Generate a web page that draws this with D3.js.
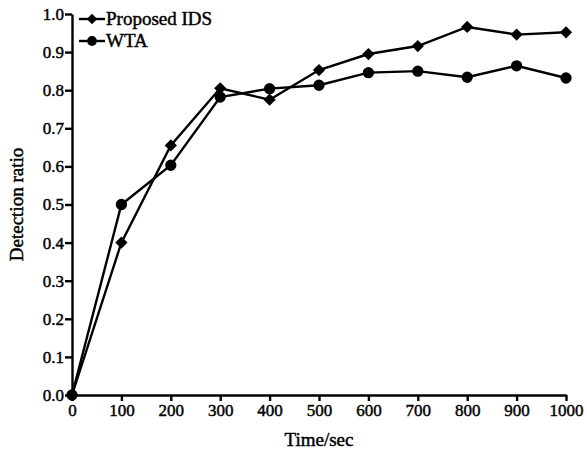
<!DOCTYPE html>
<html lang="en">
<head>
<meta charset="utf-8">
<title>Detection ratio</title>
<script src="https://d3js.org/d3.v7.min.js"></script>
<style>
  body { margin: 0; background: #fff; }
  text { font-family: "Liberation Serif", "Times New Roman", serif; fill: #000; stroke: #000; stroke-width: 0.45; }
  .axis path, .axis line { stroke: #000; stroke-width: 2.4; }
  .axis text { font-size: 17px; font-family: "Liberation Serif", "Times New Roman", serif; }
</style>
</head>
<body>
<div id="chart"></div>
<script>
const times = [0, 100, 200, 300, 400, 500, 600, 700, 800, 900, 1000];
const proposedIDS = [0, 0.40, 0.655, 0.805, 0.775, 0.853, 0.895, 0.916, 0.966, 0.946, 0.952];
const wta = [0, 0.50, 0.603, 0.782, 0.804, 0.813, 0.846, 0.850, 0.834, 0.864, 0.832];
const yTicks = [0, 0.1, 0.2, 0.3, 0.4, 0.5, 0.6, 0.7, 0.8, 0.9, 1.0];

const width = 587, height = 455;
const margin = {left: 72, right: 21, top: 14, bottom: 60};

const svg = d3.select("#chart").append("svg")
    .attr("width", width)
    .attr("height", height);

const x = d3.scaleLinear().domain([0, 1000]).range([margin.left, width - margin.right]);
const y = d3.scaleLinear().domain([0, 1]).range([height - margin.bottom, margin.top]);

svg.append("g")
    .attr("class", "axis")
    .attr("transform", `translate(0,${height - margin.bottom})`)
    .call(d3.axisBottom(x).tickValues(times).tickFormat(d3.format("d")).tickSize(6).tickSizeOuter(0).tickPadding(3));

svg.append("g")
    .attr("class", "axis")
    .attr("transform", `translate(${margin.left},0)`)
    .call(d3.axisLeft(y).tickValues(yTicks).tickFormat(d3.format(".1f")).tickSize(7).tickSizeOuter(0).tickPadding(1));

const line = d3.line().x((d, i) => x(times[i])).y(d => y(d));

// diamond drawn as a square turned 45 degrees
const diamond = {
  draw(ctx, size) {
    const r = Math.sqrt(size) / 2;
    ctx.moveTo(0, -r); ctx.lineTo(r, 0); ctx.lineTo(0, r); ctx.lineTo(-r, 0); ctx.closePath();
  }
};

const series = [
  {name: "Proposed IDS", values: proposedIDS, symbol: diamond, size: 150},
  {name: "WTA", values: wta, symbol: d3.symbolCircle, size: 100}
];

series.forEach(s => {
  svg.append("path")
      .datum(s.values)
      .attr("fill", "none")
      .attr("stroke", "#000")
      .attr("stroke-width", 2.4)
      .attr("d", line);
  svg.append("g").selectAll("path")
      .data(s.values)
      .join("path")
      .attr("transform", (d, i) => `translate(${x(times[i])},${y(d)})`)
      .attr("d", d3.symbol().type(s.symbol).size(s.size))
      .attr("fill", "#000");
});

// legend
const legend = svg.append("g");
series.forEach((s, i) => {
  const ly = 19 + i * 22;
  legend.append("line")
      .attr("x1", 79).attr("x2", 105)
      .attr("y1", ly).attr("y2", ly)
      .attr("stroke", "#000").attr("stroke-width", 2.4);
  legend.append("path")
      .attr("transform", `translate(92,${ly})`)
      .attr("d", d3.symbol().type(s.symbol).size(s.size * 0.75))
      .attr("fill", "#000");
  legend.append("text")
      .attr("x", 106).attr("y", ly + 6)
      .style("font-size", "19px")
      .text(s.name);
});

svg.append("text")
    .attr("x", (margin.left + width - margin.right) / 2)
    .attr("y", 446)
    .attr("text-anchor", "middle")
    .style("font-size", "19px")
    .text("Time/sec");

svg.append("text")
    .attr("transform", `translate(23,${(margin.top + height - margin.bottom) / 2}) rotate(-90)`)
    .attr("text-anchor", "middle")
    .style("font-size", "19px")
    .text("Detection ratio");
</script>
</body>
</html>
